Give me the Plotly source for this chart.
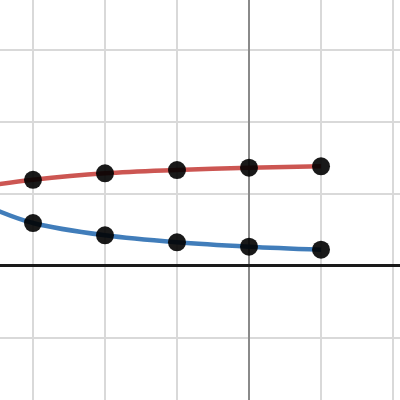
import plotly.graph_objects as go

# Point data
x_pts = [-3, -2, -1, 0, 1]
red_pts = [1.19, 1.28, 1.326, 1.358, 1.378]
blue_pts = [0.59, 0.419, 0.322, 0.261, 0.219]

# Curve data (smooth through points, extended to left edge)
x_curve = [-3.5, -3, -2, -1, 0, 1]
red_curve = [1.125, 1.19, 1.28, 1.326, 1.358, 1.378]
blue_curve = [0.765, 0.59, 0.419, 0.322, 0.261, 0.219]

fig = go.Figure()
fig.add_trace(go.Scatter(x=x_curve, y=red_curve, mode="lines",
                         line=dict(color="#c74440", width=4.5, shape="spline"),
                         opacity=0.9, hoverinfo="skip"))
fig.add_trace(go.Scatter(x=x_curve, y=blue_curve, mode="lines",
                         line=dict(color="#2d70b3", width=4.5, shape="spline"),
                         opacity=0.9, hoverinfo="skip"))
fig.add_trace(go.Scatter(x=x_pts, y=red_pts, mode="markers",
                         marker=dict(color="rgba(0,0,0,0.9)", size=18, line=dict(width=0))))
fig.add_trace(go.Scatter(x=x_pts, y=blue_pts, mode="markers",
                         marker=dict(color="rgba(0,0,0,0.9)", size=18, line=dict(width=0))))

fig.update_layout(
    width=400, height=400,
    margin=dict(l=0, r=0, t=0, b=0),
    paper_bgcolor="white", plot_bgcolor="white",
    showlegend=False,
    xaxis=dict(range=[-3.458, 2.097], dtick=1, tick0=0, showgrid=True,
               gridcolor="#d9d9d9", gridwidth=1.5, zeroline=True,
               zerolinecolor="#8a8a8a", zerolinewidth=1.5,
               showticklabels=False, ticks=""),
    yaxis=dict(range=[-1.868, 3.6875], dtick=1, tick0=0, showgrid=True,
               gridcolor="#d9d9d9", gridwidth=1.5, zeroline=True,
               zerolinecolor="#1a1a1a", zerolinewidth=3,
               showticklabels=False, ticks=""),
)

fig.write_html("out.html", config={"displayModeBar": False},
               post_script="document.body.style.margin='0';document.body.style.padding='0';")
